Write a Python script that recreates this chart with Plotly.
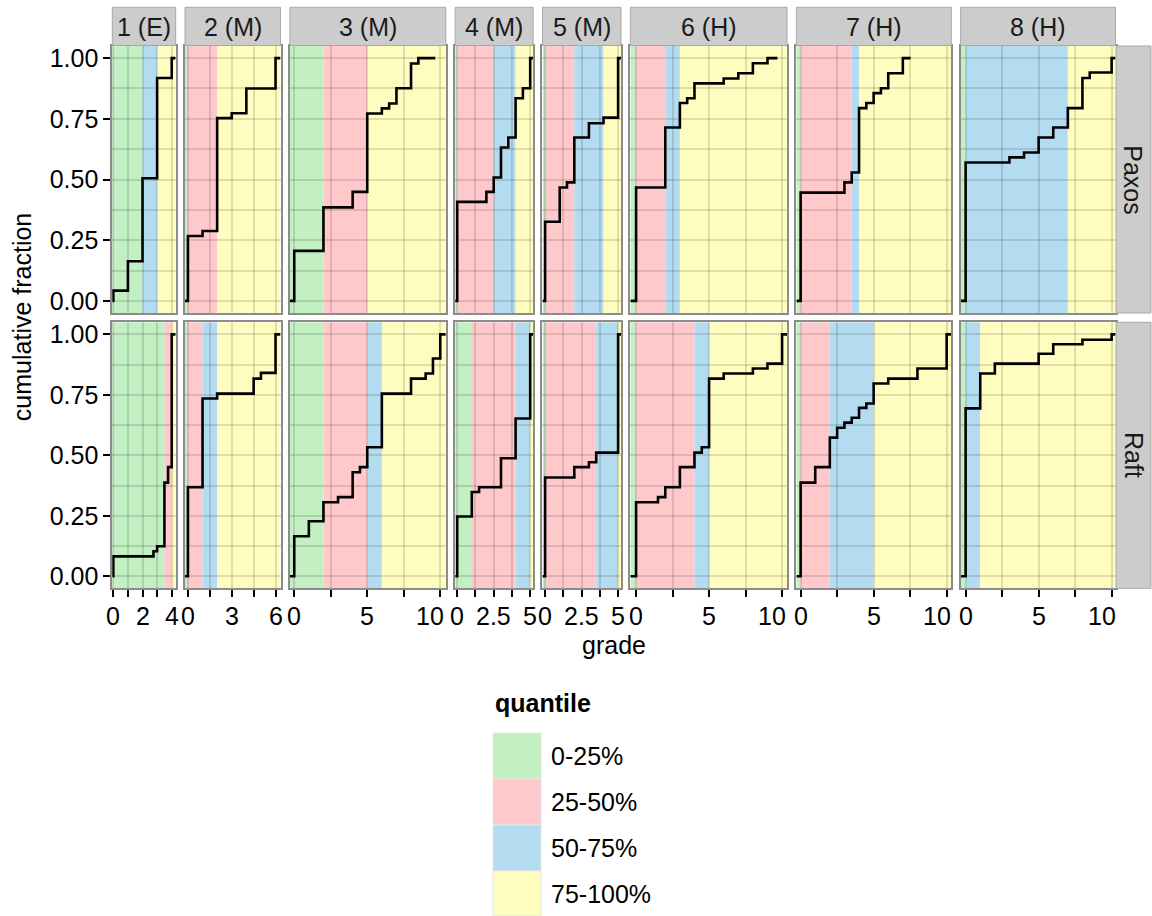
import math
import plotly.graph_objects as go

# ---------------- data ----------------
questions = ["1 (E)", "2 (M)", "3 (M)", "4 (M)", "5 (M)", "6 (H)", "7 (H)", "8 (H)"]
methods = ["Paxos", "Raft"]
quantile_labels = ["0-25%", "25-50%", "50-75%", "75-100%"]
quantile_colors = ["#c2f0c2", "#ffc9cc", "#b4dcf1", "#fffcbf"]

# grade-axis limits per question (shared by both rows) and label spacing
grade_lo = [-0.07, -0.2, -0.3, -0.14, -0.18, -0.39, -0.29, -0.34]
grade_hi = [4.27, 6.34, 10.38, 5.2, 5.2, 10.34, 10.32, 10.27]
grade_label_step = [2, 3, 5, 2.5, 2.5, 5, 5, 5]

# Paxos: step positions (grade) and cumulative fraction after each step
paxos_grade = [
    [0, 1, 2, 3, 4],
    [0, 1, 2, 3, 4, 6],
    [0, 2, 4, 5, 6, 6.5, 7, 8, 8.5],
    [0, 2, 2.5, 3, 3.5, 4, 4.5, 5],
    [0, 1, 1.5, 2, 3, 4, 5],
    [0, 2, 3, 3.5, 4, 6, 7, 8, 9],
    [0, 3, 3.5, 4, 4.5, 5, 5.5, 6, 7],
    [0, 3, 4, 5, 6, 7, 8, 8.5, 10],
]
paxos_cumfrac = [
    [0.042, 0.163, 0.505, 0.918, 1.0],
    [0.267, 0.288, 0.753, 0.773, 0.875, 1.0],
    [0.206, 0.385, 0.449, 0.772, 0.793, 0.813, 0.876, 0.978, 1.0],
    [0.408, 0.449, 0.508, 0.632, 0.673, 0.835, 0.876, 1.0],
    [0.326, 0.467, 0.488, 0.673, 0.732, 0.755, 1.0],
    [0.467, 0.714, 0.815, 0.835, 0.896, 0.916, 0.938, 0.979, 1.0],
    [0.446, 0.488, 0.529, 0.794, 0.815, 0.856, 0.876, 0.938, 1.0],
    [0.570, 0.591, 0.611, 0.673, 0.714, 0.794, 0.918, 0.941, 1.0],
]
paxos_quartiles = [
    [2, 2, 3], [0, 2, 2], [2, 5, 5], [0, 2.5, 4],
    [0, 2, 4], [0, 2, 3], [0, 3.5, 4], [0, 0, 7],
]
paxos_last_x = [None, None, 9.66, None, None, 9.68, 7.53, None]

# Raft
raft_grade = [
    [0, 2.75, 3, 3.5, 3.75, 4],
    [0, 1, 2, 4.5, 5, 6],
    [0, 1, 2, 3, 4, 4.5, 5, 6, 8, 9, 9.5, 10],
    [0, 1, 1.5, 3, 4, 5],
    [0, 2, 3, 3.5, 5],
    [0, 1.5, 2, 3, 4, 4.5, 5, 6, 8, 9, 10],
    [0, 1, 2, 2.5, 3, 3.5, 4, 4.5, 5, 6, 8, 10],
    [0, 1, 2, 5, 6, 8, 10],
]
raft_cumfrac = [
    [0.082, 0.103, 0.124, 0.387, 0.451, 1.0],
    [0.368, 0.735, 0.755, 0.817, 0.841, 1.0],
    [0.165, 0.227, 0.306, 0.327, 0.430, 0.451, 0.533, 0.755, 0.817, 0.838, 0.900, 1.0],
    [0.247, 0.348, 0.368, 0.488, 0.652, 1.0],
    [0.408, 0.451, 0.471, 0.511, 1.0],
    [0.306, 0.327, 0.368, 0.451, 0.511, 0.533, 0.817, 0.838, 0.859, 0.879, 1.0],
    [0.387, 0.451, 0.573, 0.614, 0.635, 0.655, 0.696, 0.714, 0.797, 0.817, 0.859, 1.0],
    [0.694, 0.838, 0.879, 0.920, 0.959, 0.978, 1.0],
]
raft_quartiles = [
    [3.5, 4, 4], [0, 1, 2], [2, 5, 6], [1, 4, 5],
    [0, 3.5, 5], [0, 4, 5], [0, 2, 5], [0, 0, 1],
]
raft_last_x = [None] * 8

# ---------------- geometry / style ----------------
W, H = 1152, 916
PPU = 14.6
GAP = 9.36
LEFT0 = 112.3
ROW_TOP = [46.0, 322.3]
ROW_BOT = [313.0, 588.3]
GRID = "rgba(0,0,0,0.12)"
BORDER = "#8c8c8c"
STRIP = "#cccccc"
FONT = "Liberation Sans, Arial, sans-serif"
FS = 25
TICKFONT = dict(family=FONT, size=FS, color="black")

def X(px):
    return px / W

def Y(py):
    return 1 - py / H

col_left, col_right = [], []
pos = LEFT0
for lo, hi in zip(grade_lo, grade_hi):
    w = (hi - lo) * PPU
    col_left.append(pos)
    col_right.append(pos + w)
    pos += w + GAP

fig = go.Figure()
layout = {}
shapes = []
annotations = []

series = [
    (paxos_grade, paxos_cumfrac, paxos_quartiles, paxos_last_x),
    (raft_grade, raft_cumfrac, raft_quartiles, raft_last_x),
]

for r, (grades, cums, quarts, lasts) in enumerate(series):
    for c in range(len(questions)):
        k = r * len(questions) + c + 1
        xn = "x" if k == 1 else f"x{k}"
        yn = "y" if k == 1 else f"y{k}"
        lo, hi = grade_lo[c], grade_hi[c]

        # quantile background bands
        edges = [lo] + quarts[c] + [hi]
        for i in range(4):
            if edges[i + 1] > edges[i]:
                shapes.append(dict(type="rect", xref=xn, yref=yn,
                                   x0=edges[i], x1=edges[i + 1], y0=-0.05, y1=1.05,
                                   fillcolor=quantile_colors[i], line=dict(width=0),
                                   layer="below"))

        end_x = lasts[c] if lasts[c] is not None else hi
        xs = [lo] + grades[c] + [end_x]
        ys = [0] + cums[c] + [1]
        fig.add_trace(go.Scatter(x=xs, y=ys, mode="lines",
                                 line=dict(color="black", width=2.6, shape="hv"),
                                 xaxis=xn, yaxis=yn, showlegend=False,
                                 hoverinfo="skip"))

        half = grade_label_step[c] / 2
        n = int(math.floor(hi / half + 1e-9))
        tvals = [i * half for i in range(n + 1)]

        # grade tick labels (bottom row): placed on the axis scale; two-digit
        # labels sit a little left of their tick, as in the original
        if r == 1:
            for i, v in enumerate(tvals):
                if i % 2:
                    continue
                s = f"{v:g}"
                annotations.append(dict(text=s, xref=xn, yref="paper", x=v, y=Y(616),
                                        xshift=-10 if len(s) >= 2 and "." not in s else 0,
                                        showarrow=False, xanchor="center", yanchor="middle",
                                        font=TICKFONT))

        layout["xaxis" if k == 1 else f"xaxis{k}"] = dict(
            domain=[X(col_left[c]), X(col_right[c])], range=[lo, hi], anchor=yn,
            tickmode="array", tickvals=tvals, showticklabels=False,
            ticks="outside" if r == 1 else "",
            ticklen=7, tickwidth=2, tickcolor="black", tickfont=TICKFONT,
            showgrid=True, gridcolor=GRID, gridwidth=1.8, zeroline=False,
            showline=True, mirror=True, linecolor=BORDER, linewidth=2,
            automargin=False, fixedrange=True)
        layout["yaxis" if k == 1 else f"yaxis{k}"] = dict(
            domain=[Y(ROW_BOT[r]), Y(ROW_TOP[r])], range=[-0.05, 1.05], anchor=xn,
            tickmode="linear", tick0=0, dtick=0.25, tickformat=".2f",
            showticklabels=(c == 0), ticks="outside" if c == 0 else "",
            ticklen=7, tickwidth=2, tickcolor="black", tickfont=TICKFONT,
            showgrid=True, gridcolor=GRID, gridwidth=1.8, zeroline=False,
            minor=dict(tickmode="linear", tick0=0, dtick=0.125, showgrid=True,
                       gridcolor=GRID, gridwidth=1.8, ticks=""),
            showline=True, mirror=True, linecolor=BORDER, linewidth=2,
            automargin=False, fixedrange=True)

# top strips
for c, q in enumerate(questions):
    shapes.append(dict(type="rect", xref="paper", yref="paper",
                       x0=X(col_left[c]), x1=X(col_right[c]), y0=Y(45.5), y1=Y(7.3),
                       fillcolor=STRIP, line=dict(color="#a8a8a8", width=1)))
    annotations.append(dict(text=q, xref="paper", yref="paper",
                            x=X((col_left[c] + col_right[c]) / 2), y=Y(26.5),
                            showarrow=False, xanchor="center", yanchor="middle",
                            font=dict(family=FONT, size=FS, color="#1a1a1a")))

# right strips
for r, m in enumerate(methods):
    shapes.append(dict(type="rect", xref="paper", yref="paper",
                       x0=X(col_right[-1] + 0.5), x1=X(1151), y0=Y(ROW_BOT[r]), y1=Y(ROW_TOP[r]),
                       fillcolor=STRIP, line=dict(color="#a8a8a8", width=1)))
    annotations.append(dict(text=m, xref="paper", yref="paper",
                            x=X((col_right[-1] + 1151) / 2), y=Y((ROW_TOP[r] + ROW_BOT[r]) / 2),
                            showarrow=False, textangle=90, xanchor="center", yanchor="middle",
                            font=dict(family=FONT, size=FS, color="#1a1a1a")))

# axis titles
annotations.append(dict(text="cumulative fraction", xref="paper", yref="paper",
                        x=X(22), y=Y((ROW_TOP[0] + ROW_BOT[1]) / 2), showarrow=False,
                        textangle=-90, xanchor="center", yanchor="middle",
                        font=dict(family=FONT, size=FS, color="black")))
annotations.append(dict(text="grade", xref="paper", yref="paper",
                        x=X((col_left[0] + col_right[-1]) / 2), y=Y(645), showarrow=False,
                        xanchor="center", yanchor="middle",
                        font=dict(family=FONT, size=FS, color="black")))

# legend (drawn manually)
annotations.append(dict(text="<b>quantile</b>", xref="paper", yref="paper",
                        x=X(493), y=Y(703), showarrow=False, xanchor="left", yanchor="middle",
                        font=dict(family=FONT, size=FS, color="black")))
KEY_TOP, KEY_H = 733, 46
for i, (lab, col) in enumerate(zip(quantile_labels, quantile_colors)):
    t = KEY_TOP + i * KEY_H
    shapes.append(dict(type="rect", xref="paper", yref="paper",
                       x0=X(493), x1=X(541), y0=max(Y(t + KEY_H), 0), y1=Y(t),
                       fillcolor=col, line=dict(color="#e6e6e6", width=1)))
    annotations.append(dict(text=lab, xref="paper", yref="paper",
                            x=X(549), y=Y(t + KEY_H / 2), showarrow=False,
                            xanchor="left", yanchor="middle",
                            font=dict(family=FONT, size=FS, color="black")))

fig.update_layout(
    width=W, height=H, margin=dict(l=0, r=0, t=0, b=0, autoexpand=False),
    paper_bgcolor="white", plot_bgcolor="white",
    showlegend=False, shapes=shapes, annotations=annotations,
    font=dict(family=FONT, color="black"),
    **layout,
)

fig.write_html("out.html", config={"displayModeBar": False},
               post_script="document.body.style.margin='0';")
